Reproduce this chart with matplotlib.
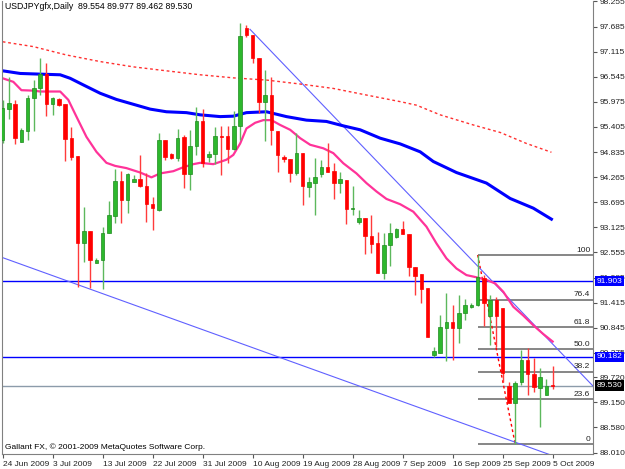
import matplotlib
matplotlib.use("Agg")
import matplotlib.pyplot as plt

plt.rcParams['font.family'] = ['Liberation Sans', 'DejaVu Sans']

# Daily OHLC bars, 24 Jun 2009 .. 5 Oct 2009
opens = [95.108, 95.813, 95.926, 95.070, 95.313, 96.070, 96.297, 96.608, 95.919, 96.032,
         95.919, 95.146, 94.752, 92.761, 93.041, 92.322, 92.382, 92.988, 93.389, 94.177,
         93.745, 94.162, 94.222, 94.071, 93.654, 93.518, 95.108, 94.783, 94.692, 95.169,
         94.336, 94.972, 95.540, 94.730, 94.783, 95.200, 95.200, 94.897, 95.427, 97.646,
         97.494, 96.979, 95.980, 96.131, 95.313, 94.715, 94.670, 94.352, 94.806, 94.049,
         94.140, 94.337, 94.488, 94.405, 94.125, 94.200, 93.534, 93.239, 93.330, 92.936,
         92.762, 92.080, 92.724, 92.898, 93.080, 92.974, 92.232, 92.065, 91.739, 90.225,
         90.278, 90.831, 90.982, 90.846, 91.187, 91.308, 91.353, 91.980, 91.100, 91.470,
         91.285, 89.528, 89.128, 89.618, 90.111, 89.793, 89.468, 89.320, 89.554]
highs = [96.017, 96.532, 96.017, 95.373, 96.131, 96.471, 96.964, 96.850, 96.093, 96.055,
         95.919, 95.411, 94.752, 93.594, 93.041, 92.420, 93.124, 93.730, 94.442, 94.412,
         94.351, 94.313, 94.768, 94.351, 93.821, 95.260, 95.108, 94.821, 95.351, 95.222,
         95.335, 95.866, 95.805, 94.850, 95.397, 95.427, 95.427, 95.775, 97.759, 97.721,
         97.494, 96.979, 96.699, 96.533, 95.313, 94.768, 94.670, 95.260, 94.806, 94.276,
         94.693, 94.655, 95.033, 94.579, 94.390, 94.200, 94.064, 93.519, 93.330, 93.405,
         93.027, 92.989, 93.231, 93.102, 93.277, 92.974, 92.232, 92.065, 91.739, 90.414,
         91.134, 91.626, 91.361, 91.588, 91.505, 91.399, 92.497, 92.040, 91.588, 91.550,
         91.285, 89.619, 89.634, 90.338, 90.376, 90.150, 89.920, 89.680, 89.977]
lows = [95.033, 95.578, 95.017, 95.070, 95.108, 95.313, 96.131, 95.654, 95.676, 95.881,
        94.639, 94.654, 91.761, 92.344, 91.739, 92.322, 91.716, 92.988, 93.215, 93.230,
        93.442, 94.162, 94.048, 93.253, 93.064, 93.503, 94.654, 94.669, 94.631, 94.010,
        93.972, 94.768, 94.487, 94.620, 94.564, 94.314, 94.594, 94.882, 95.109, 97.456,
        96.866, 95.730, 95.094, 94.995, 94.390, 94.617, 94.163, 94.314, 93.632, 93.822,
        93.405, 94.261, 94.375, 93.761, 93.897, 93.201, 93.405, 93.201, 92.519, 92.534,
        92.080, 91.944, 92.247, 92.875, 92.974, 92.020, 91.588, 91.399, 90.626, 90.187,
        90.263, 90.089, 90.111, 90.490, 91.020, 91.285, 91.338, 90.884, 90.452, 90.400,
        89.619, 89.127, 88.203, 89.543, 89.316, 89.392, 88.580, 89.310, 89.462]
closes = [95.828, 95.941, 95.146, 95.335, 96.070, 96.297, 96.608, 95.919, 96.055, 95.896,
          95.131, 94.715, 92.761, 93.041, 92.382, 92.382, 92.988, 93.405, 94.177, 93.745,
          94.336, 94.222, 94.071, 93.647, 93.556, 95.108, 94.715, 94.707, 95.161, 94.336,
          94.972, 95.540, 94.593, 94.791, 95.207, 95.185, 94.897, 95.427, 97.471, 97.494,
          96.964, 95.980, 96.131, 95.336, 94.768, 94.685, 94.352, 94.806, 94.064, 94.147,
          94.276, 94.488, 94.390, 94.125, 94.215, 93.534, 93.549, 93.330, 92.936, 92.746,
          92.095, 92.724, 92.989, 93.080, 92.974, 92.232, 92.020, 91.717, 90.626, 90.323,
          90.853, 90.982, 90.846, 91.187, 91.353, 91.353, 91.989, 91.400, 91.470, 91.100,
          89.808, 89.128, 89.583, 90.111, 89.793, 89.490, 89.717, 89.528, 89.530]

# Moving averages (bar position, price)
ma_fast_x = [0, 1.7, 3.0, 4.9, 6.0, 9.2, 10.5, 11.8, 13.4, 15.0, 16.6, 18.0, 19.8, 22.0,
             23.8, 25.2, 27.3, 28.9, 30.5, 31.6, 33.7, 35.8, 36.9, 38.0, 39.0, 40.4, 41.7,
             43.0, 44.4, 46.0, 47.6, 49.2, 51.3, 52.9, 54.5, 56.6, 58.2, 59.8, 61.4, 63.6,
             65.7, 67.8, 69.4, 71.0, 72.6, 74.2, 75.8, 77.4, 78.8, 80.1, 81.7, 83.3, 84.9,
             86.5, 88.0]
ma_fast_y = [96.51, 96.43, 96.24, 96.23, 96.21, 96.21, 96.02, 95.64, 95.18, 94.84, 94.59,
             94.52, 94.47, 94.37, 94.26, 94.35, 94.40, 94.49, 94.56, 94.59, 94.56, 94.66,
             94.77, 95.03, 95.37, 95.50, 95.56, 95.56, 95.45, 95.34, 95.15, 95.00, 94.92,
             94.81, 94.58, 94.35, 94.13, 93.94, 93.77, 93.65, 93.48, 93.14, 92.76, 92.42,
             92.19, 92.04, 91.99, 91.93, 91.85, 91.66, 91.32, 91.12, 90.90, 90.70, 90.53]
ma_mid_x = [0, 2.8, 7.0, 9.2, 10.8, 12.9, 15.6, 18.2, 20.9, 23.6, 26.2, 29.4, 31.6, 34.8,
            36.9, 39.0, 42.2, 45.4, 48.6, 51.8, 54.5, 57.2, 60.4, 63.6, 66.8, 68.9, 72.6,
            77.4, 81.2, 84.9, 87.8]
ma_mid_y = [96.68, 96.62, 96.60, 96.59, 96.51, 96.36, 96.17, 96.03, 95.92, 95.81, 95.75,
            95.73, 95.68, 95.64, 95.65, 95.73, 95.75, 95.64, 95.56, 95.53, 95.43, 95.34,
            95.15, 95.02, 94.84, 94.62, 94.37, 94.13, 93.78, 93.56, 93.31]
ma_slow_x = [0, 4.9, 10.2, 15.6, 20.9, 26.2, 31.6, 36.9, 42.2, 47.6, 52.9, 58.2, 63.6,
             66.2, 70.0, 75.3, 79.6, 83.8, 87.8]
ma_slow_y = [97.34, 97.23, 97.04, 96.89, 96.77, 96.68, 96.59, 96.52, 96.47, 96.38, 96.28,
             96.13, 95.98, 95.90, 95.68, 95.45, 95.28, 95.03, 94.83]

# Trend lines and levels
trend_upper_x = [39.57, 94.45]
trend_upper_y = [97.623, 89.52]
trend_lower_x = [-0.43, 86.5, 94.45]
trend_lower_y = [92.458, 88.014, 87.608]
hlines = [91.903, 90.182]
bid = 89.530
fib_levels = ["0", "23.6", "38.2", "50.0", "61.8", "76.4", "100"]
fib_low, fib_high = 88.203, 92.497
fib_start, fib_end = 76, 82

price_ticks = [98.255, 97.685, 97.115, 96.545, 95.975, 95.405, 94.835, 94.265, 93.695,
               93.125, 92.555, 91.985, 91.415, 90.845, 90.275, 89.720, 89.150, 88.580, 88.010]
date_pos = [0, 8, 16, 24, 32, 40, 48, 56, 64, 72, 80, 88]
date_labels = ["24 Jun 2009", "3 Jul 2009", "13 Jul 2009", "22 Jul 2009", "31 Jul 2009",
               "10 Aug 2009", "19 Aug 2009", "28 Aug 2009", "7 Sep 2009", "16 Sep 2009",
               "25 Sep 2009", "5 Oct 2009"]

fig = plt.figure(figsize=(6.25, 4.69), dpi=100)
ax = fig.add_axes([2 / 625, 1 - 454 / 469, 591 / 625, 453 / 469])
ax.set_xlim(-0.11, 94.45)
ax.set_ylim(87.976, 98.266)

# horizontal levels and bid line
for h in hlines:
    ax.axhline(h, color='#0000FF', lw=1, zorder=1)
ax.axhline(bid, color='#8C9BAA', lw=1, zorder=1)

# fibonacci retracement
for lab in fib_levels:
    p = fib_low + (fib_high - fib_low) * float(lab) / 100
    ax.hlines(p, fib_start, 94.45, color='#666666', lw=1.1, zorder=1)
    ax.text(94.0, p + 0.03, lab, ha='right', va='bottom', fontsize=6, color='#222222')
ax.plot([fib_start, fib_end], [fib_high, fib_low], color='#FF0000', lw=1,
        ls=(0, (2, 2)), zorder=2)

# trend lines
ax.plot(trend_upper_x, trend_upper_y, color='#6060FF', lw=0.8, zorder=2)
ax.plot(trend_lower_x, trend_lower_y, color='#6060FF', lw=0.8, zorder=2)

# moving averages
ax.plot(ma_slow_x, ma_slow_y, color='#FF3030', lw=1, ls=(0, (2, 2)), zorder=2)
ax.plot(ma_mid_x, ma_mid_y, color='#0000FF', lw=2.2, zorder=2)
ax.plot(ma_fast_x, ma_fast_y, color='#FF3399', lw=1.6, zorder=2)

# candles
for i, (o, h, l, c) in enumerate(zip(opens, highs, lows, closes)):
    up = c >= o
    body_c = '#2DB82D' if up else '#FF0000'
    edge_c = '#1F8A1F' if up else '#FF0000'
    wick_c = '#5CB85C' if up else '#FF3B3B'
    ax.vlines(i, l, h, color=wick_c, lw=1, zorder=3)
    ax.bar(i, max(abs(c - o), 0.02), bottom=min(o, c), width=0.55,
           color=body_c, edgecolor=edge_c, lw=0.5, zorder=4)

# axes styling
for s in ['top']:
    ax.spines[s].set_visible(False)
for s in ['left', 'right', 'bottom']:
    ax.spines[s].set_color('#808080')
ax.yaxis.tick_right()
ax.set_yticks(price_ticks)
ax.set_yticklabels(['%.3f' % v for v in price_ticks])
ax.tick_params(axis='y', length=3, width=0.8, color='#555555', labelsize=6, pad=2,
               labelcolor='#222222')
ax.set_xticks(date_pos)
ax.set_xticklabels(date_labels)
for t in ax.get_xticklabels():
    t.set_horizontalalignment('left')
ax.tick_params(axis='x', length=3, width=0.8, color='#555555', labelsize=6, pad=2,
               labelcolor='#222222')

# price tags on the right axis
tr = ax.get_yaxis_transform()
for h in hlines:
    ax.text(1.006, h, '%.3f' % h, transform=tr, ha='left', va='center', fontsize=6,
            color='white', bbox=dict(facecolor='#0000FF', edgecolor='none', pad=1.2),
            clip_on=False, zorder=10)
ax.text(1.006, bid, '%.3f' % bid, transform=tr, ha='left', va='center', fontsize=6,
        color='white', bbox=dict(facecolor='black', edgecolor='none', pad=1.2),
        clip_on=False, zorder=10)

ax.text(0.005, 0.997, 'USDJPYgfx,Daily  89.554 89.977 89.462 89.530', transform=ax.transAxes,
        ha='left', va='top', fontsize=6.3, color='black')
ax.text(0.005, 0.006, 'Gallant FX, \u00a9 2001-2009 MetaQuotes Software Corp.',
        transform=ax.transAxes, ha='left', va='bottom', fontsize=6, color='black')

fig.savefig('out.png', dpi=100, facecolor='white')
